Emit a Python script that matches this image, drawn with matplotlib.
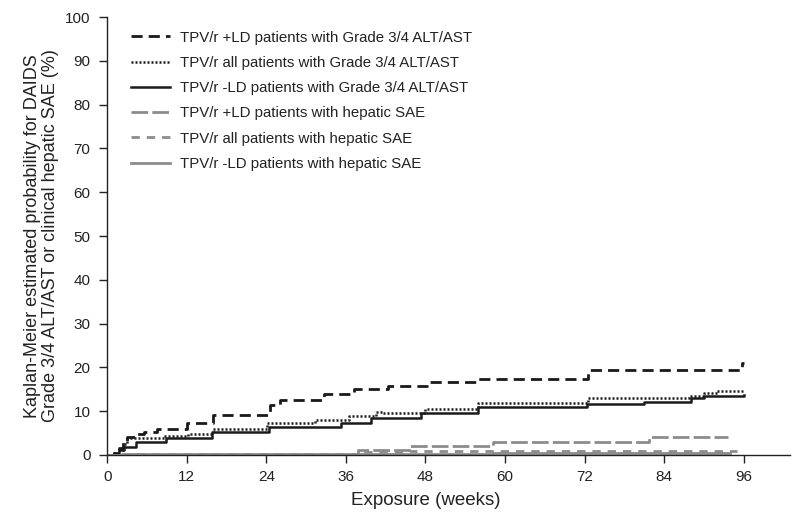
import matplotlib
matplotlib.use("Agg")
import matplotlib.pyplot as plt

plt.rcParams['font.family'] = ['Liberation Sans', 'DejaVu Sans']

# Step data (weeks, %)
ld_pos_g34_t = [0, 1.0, 1.8, 2.4, 3.0, 4.3, 5.5, 7.5, 12.0, 16.0, 24.6, 26.1, 32.7, 37.3, 42.3, 48.6, 56.0, 72.6, 95.7, 96.0]
ld_pos_g34_v = [0, 0.5, 1.5, 3.0, 4.2, 4.9, 5.3, 5.9, 7.4, 9.1, 11.4, 12.5, 14.0, 15.0, 15.7, 16.6, 17.3, 19.4, 21.0, 21.0]

all_g34_t = [0, 1.0, 1.8, 2.5, 3.0, 8.5, 12.2, 16.0, 24.1, 31.4, 36.4, 40.5, 41.5, 48.0, 56.0, 72.6, 87.8, 90.0, 92.0, 96.0]
all_g34_v = [0, 0.4, 1.2, 2.5, 3.8, 4.3, 4.8, 5.9, 7.2, 8.0, 8.9, 9.9, 9.6, 10.6, 11.9, 12.9, 13.4, 14.2, 14.6, 14.8]

ld_neg_g34_t = [0, 1.0, 1.8, 2.5, 4.3, 8.8, 15.8, 24.4, 35.3, 39.8, 47.4, 56.0, 72.3, 81.0, 88.0, 90.0, 96.0]
ld_neg_g34_v = [0, 0.4, 1.2, 1.9, 3.0, 3.8, 5.3, 6.45, 7.2, 8.35, 9.5, 10.9, 11.6, 12.1, 12.9, 13.4, 13.6]

ld_pos_sae_t = [0, 37.8, 45.5, 58.2, 81.7, 93.6]
ld_pos_sae_v = [0, 1.1, 2.1, 2.9, 4.2, 4.2]

all_sae_t = [0, 2.3, 37.8, 45.5, 58.2, 95.0]
all_sae_v = [0, 0.3, 0.6, 0.8, 1.0, 1.0]

ld_neg_sae_t = [0, 2.5, 58.2, 94.0]
ld_neg_sae_v = [0, 0.2, 0.4, 0.4]

labels = [
    "TPV/r +LD patients with Grade 3/4 ALT/AST",
    "TPV/r all patients with Grade 3/4 ALT/AST",
    "TPV/r -LD patients with Grade 3/4 ALT/AST",
    "TPV/r +LD patients with hepatic SAE",
    "TPV/r all patients with hepatic SAE",
    "TPV/r -LD patients with hepatic SAE",
]
x_ticks = [0, 12, 24, 36, 48, 60, 72, 84, 96]
y_ticks = [0, 10, 20, 30, 40, 50, 60, 70, 80, 90, 100]

fig = plt.figure(figsize=(7.94, 5.17), dpi=100)
ax = fig.add_axes([0.135, 0.12, 0.86, 0.847])

dark = "#1a1a1a"
grey = "#8c8c8c"

ax.step(ld_pos_g34_t, ld_pos_g34_v, where='post', color=dark, lw=2.0, ls=(0, (4, 2.2)), label=labels[0])
ax.step(all_g34_t, all_g34_v, where='post', color=dark, lw=1.8, ls=(0, (0.8, 0.8)), label=labels[1])
ax.step(ld_neg_g34_t, ld_neg_g34_v, where='post', color=dark, lw=1.8, ls='-', label=labels[2])
ax.step(ld_pos_sae_t, ld_pos_sae_v, where='post', color=grey, lw=2.0, ls=(0, (6, 1.5)), label=labels[3])
ax.step(all_sae_t, all_sae_v, where='post', color=grey, lw=2.0, ls=(0, (3, 2.5)), label=labels[4])
ax.step(ld_neg_sae_t, ld_neg_sae_v, where='post', color=grey, lw=2.0, ls='-', label=labels[5])

ax.set_xlim(0, 103)
ax.set_ylim(0, 100)
ax.set_xticks(x_ticks)
ax.set_yticks(y_ticks)
ax.tick_params(labelsize=11, length=6, width=1, direction='out', colors='#222222')
ax.tick_params(axis='y', pad=6)
ax.tick_params(axis='x', pad=5)
for s in ['top', 'right']:
    ax.spines[s].set_visible(False)
for s in ['left', 'bottom']:
    ax.spines[s].set_linewidth(1.0)
    ax.spines[s].set_color('#222222')

ax.set_xlabel("Exposure (weeks)", fontsize=13.5, color='#222222')
ax.xaxis.set_label_coords(48 / 103, -0.085)
ax.set_ylabel("Kaplan-Meier estimated probability for DAIDS\nGrade 3/4 ALT/AST or clinical hepatic SAE (%)",
              fontsize=13, color='#222222', linespacing=1.1)
ax.yaxis.set_label_coords(-0.07, 0.5)

leg = ax.legend(loc='upper left', bbox_to_anchor=(0.015, 1.0), frameon=False, fontsize=10.8,
                handlelength=2.6, labelspacing=0.75, handletextpad=0.7)
for t in leg.get_texts():
    t.set_color('#222222')

fig.savefig("out.png", dpi=100)
